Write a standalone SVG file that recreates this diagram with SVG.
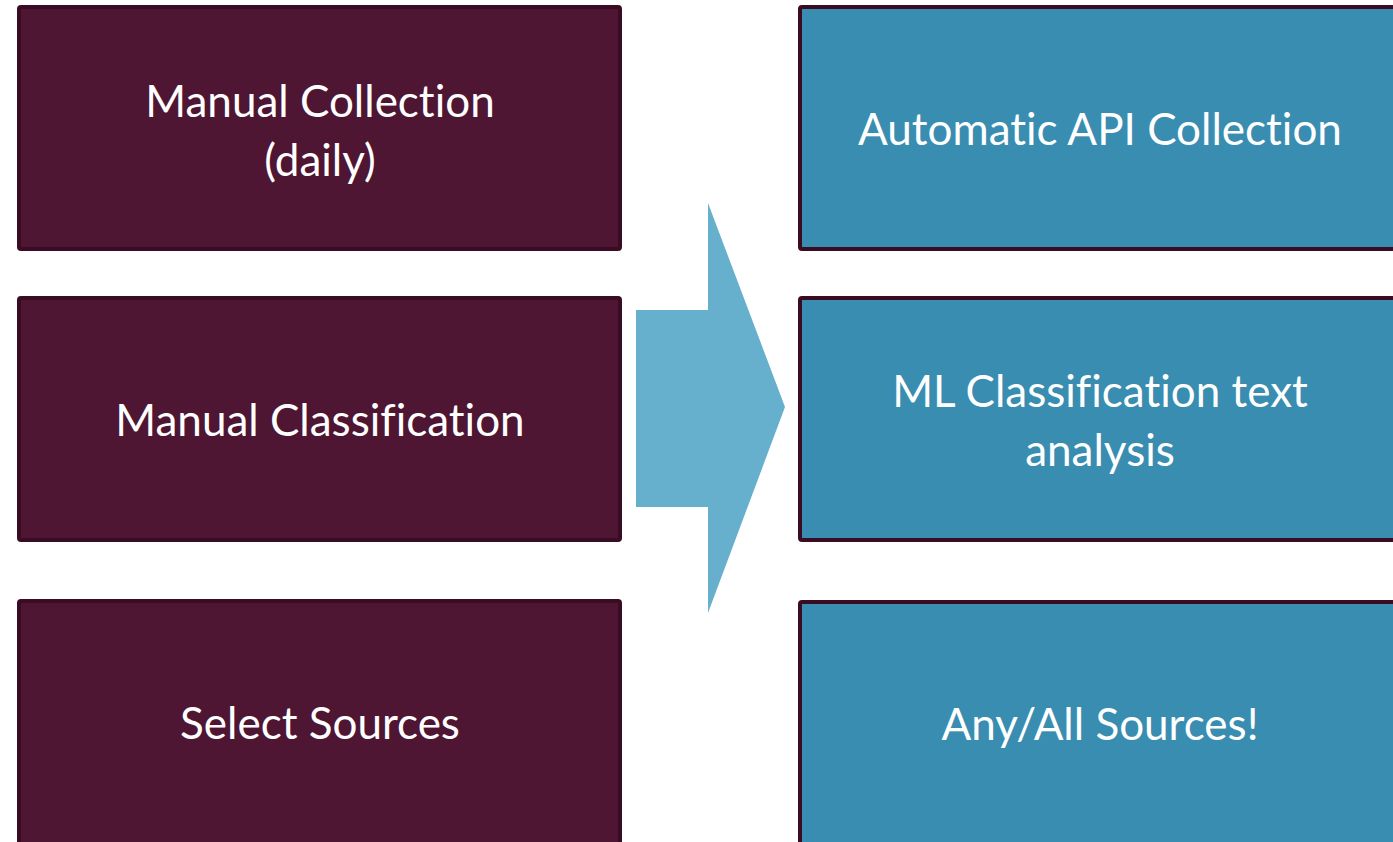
<svg xmlns="http://www.w3.org/2000/svg" width="1393" height="842" viewBox="0 0 1393 842">
<style>
.l{fill:#4e1633;stroke:#3a0c24;stroke-width:4}
.r{fill:#398db0;stroke:#3a0c24;stroke-width:4}
text{font-family:Lato,"Open Sans",sans-serif;font-size:44px;fill:#ffffff;text-anchor:middle;font-variant-ligatures:none}
</style>
<rect width="1393" height="842" fill="#ffffff"/>
<g id="connectors">
<polygon points="636,310 708,310 708,203 785,407 708,613 708,507 636,507" fill="#67b0cd"/>
</g>
<g id="n1"><rect class="l" x="19" y="7" width="601" height="242" rx="2"/><text x="320" y="117">Manual Collection</text><text x="320" y="176">(daily)</text></g>
<g id="n2"><rect class="l" x="19" y="298" width="601" height="242" rx="2"/><text x="320" y="436">Manual Classification</text></g>
<g id="n3"><rect class="l" x="19" y="601" width="601" height="250" rx="2"/><text x="320" y="739">Select Sources</text></g>
<g id="n4"><rect class="r" x="800" y="7" width="600" height="242" rx="2"/><text x="1100" y="145">Automatic API Collection</text></g>
<g id="n5"><rect class="r" x="800" y="298" width="600" height="242" rx="2"/><text x="1100" y="407">ML Classification text</text><text x="1100" y="466">analysis</text></g>
<g id="n6"><rect class="r" x="800" y="602" width="600" height="250" rx="2"/><text x="1100" y="740">Any/All Sources!</text></g>
</svg>
